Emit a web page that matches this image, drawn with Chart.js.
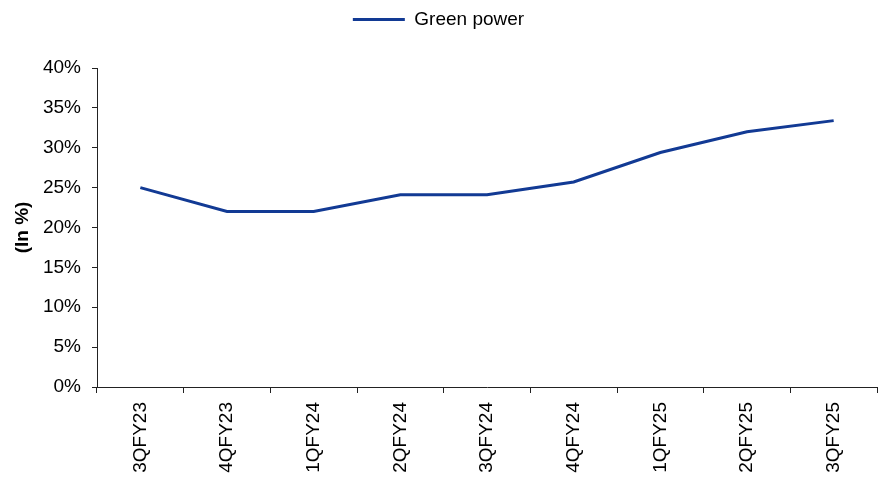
<!DOCTYPE html>
<html>
<head>
<meta charset="utf-8">
<script src="https://cdn.jsdelivr.net/npm/chart.js@4/dist/chart.umd.min.js"></script>
<style>
  html, body { margin: 0; padding: 0; background: #fff; }
  #wrap { width: 885px; height: 477px; position: relative; }
</style>
</head>
<body>
<div id="wrap"><canvas id="c"></canvas></div>
<script>
// Quarterly share of green power in the energy mix
const quarters = ['3QFY23', '4QFY23', '1QFY24', '2QFY24', '3QFY24', '4QFY24', '1QFY25', '2QFY25', '3QFY25'];
const greenPower = [25.0, 22.0, 22.0, 24.1, 24.1, 25.7, 29.4, 32.0, 33.4];
const yTicks = [0, 5, 10, 15, 20, 25, 30, 35, 40];

const FONT = 'Liberation Sans, Arial, sans-serif';
const FONT_SIZE = 19;
const LINE_COLOR = '#123a94';
const AXIS_COLOR = '#222222';

// Adds space below the legend so the plot starts lower
const legendGap = {
  id: 'legendGap',
  beforeInit(chart) {
    const origFit = chart.legend.fit;
    chart.legend.fit = function () {
      origFit.bind(chart.legend)();
      this.height += 29;
    };
  }
};

new Chart(document.getElementById('c'), {
  type: 'line',
  data: {
    labels: quarters,
    datasets: [{
      label: 'Green power',
      data: greenPower,
      borderColor: LINE_COLOR,
      backgroundColor: LINE_COLOR,
      borderWidth: 3,
      pointRadius: 0,
      pointHoverRadius: 0,
      tension: 0,
      fill: false
    }]
  },
  options: {
    responsive: true,
    maintainAspectRatio: false,
    animation: false,
    layout: { padding: { left: 0, right: 8, top: 0, bottom: 0 } },
    plugins: {
      legend: {
        position: 'top',
        labels: {
          usePointStyle: true,
          pointStyle: 'line',
          pointStyleWidth: 52,
          color: '#000',
          padding: 10,
          font: { family: FONT, size: FONT_SIZE }
        }
      },
      tooltip: { enabled: false }
    },
    scales: {
      x: {
        type: 'category',
        offset: true,
        afterFit(s) { s.height = 90; },
        grid: { display: true, offset: true, drawOnChartArea: false, tickLength: 6, color: AXIS_COLOR, lineWidth: 1 },
        border: { display: true, color: AXIS_COLOR, width: 1 },
        ticks: {
          color: '#000',
          font: { family: FONT, size: FONT_SIZE },
          maxRotation: 90,
          minRotation: 90,
          padding: 9,
          autoSkip: false
        }
      },
      y: {
        min: 0,
        max: 40,
        afterFit(s) { s.width = 97; },
        afterBuildTicks(s) { s.ticks = yTicks.map(v => ({ value: v })); },
        grid: { display: true, drawOnChartArea: false, tickLength: 5, color: AXIS_COLOR, lineWidth: 1 },
        border: { display: true, color: AXIS_COLOR, width: 1 },
        ticks: {
          color: '#000',
          font: { family: FONT, size: FONT_SIZE },
          padding: 11,
          callback: v => v + '%'
        },
        title: {
          display: true,
          text: '(In %)',
          color: '#000',
          font: { family: FONT, size: FONT_SIZE, weight: 'bold' },
          padding: { top: 11, bottom: 0 }
        }
      }
    }
  },
  plugins: [legendGap]
});
</script>
</body>
</html>
